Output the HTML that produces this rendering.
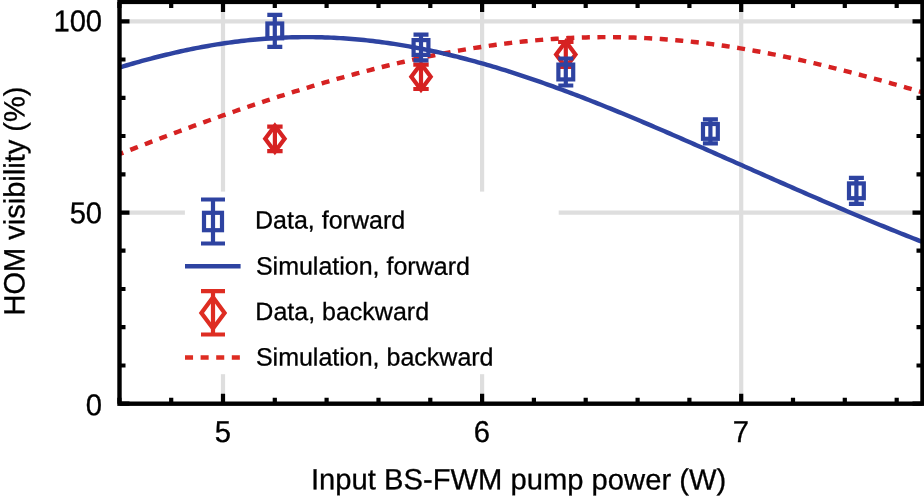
<!DOCTYPE html>
<html lang="en"><head><meta charset="utf-8"><title>HOM visibility</title>
<style>html,body{margin:0;padding:0;background:#fff;overflow:hidden}svg{display:block}text{text-rendering:geometricPrecision;font-family:"Liberation Sans",sans-serif;fill:#000}</style></head><body>
<svg width="924" height="504" viewBox="0 0 924 504">
<rect width="924" height="504" fill="#fff"/>
<g stroke="#dedede" stroke-width="4.2" fill="none">
<line x1="223.0" y1="1.9" x2="223.0" y2="403.7"/>
<line x1="482.1" y1="1.9" x2="482.1" y2="403.7"/>
<line x1="741.2" y1="1.9" x2="741.2" y2="403.7"/>
<line x1="119.5" y1="212.7" x2="922.5" y2="212.7"/>
<line x1="119.5" y1="21.3" x2="922.5" y2="21.3"/>
</g>
<rect x="184.9" y="191.6" width="373.8" height="182.6" fill="#fff"/>
<defs><clipPath id="ax"><rect x="119.5" y="1.9" width="803.0" height="401.8"/></clipPath></defs>
<g clip-path="url(#ax)" fill="none" stroke-width="4">
<path d="M112.0,157.02 L115.0,155.84 L118.0,154.67 L121.0,153.50 L124.0,152.33 L127.0,151.16 L130.0,150.00 L133.0,148.83 L136.0,147.67 L139.0,146.52 L142.0,145.36 L145.0,144.21 L148.0,143.06 L151.0,141.92 L154.0,140.77 L157.0,139.63 L160.0,138.50 L163.0,137.36 L166.0,136.23 L169.0,135.10 L172.0,133.98 L175.0,132.86 L178.0,131.74 L181.0,130.63 L184.0,129.52 L187.0,128.41 L190.0,127.31 L193.0,126.21 L196.0,125.11 L199.0,124.02 L202.0,122.94 L205.0,121.85 L208.0,120.77 L211.0,119.70 L214.0,118.63 L217.0,117.56 L220.0,116.50 L223.0,115.44 L226.0,114.39 L229.0,113.34 L232.0,112.29 L235.0,111.25 L238.0,110.21 L241.0,109.18 L244.0,108.16 L247.0,107.14 L250.0,106.12 L253.0,105.11 L256.0,104.10 L259.0,103.10 L262.0,102.10 L265.0,101.11 L268.0,100.12 L271.0,99.14 L274.0,98.16 L277.0,97.19 L280.0,96.23 L283.0,95.27 L286.0,94.31 L289.0,93.36 L292.0,92.42 L295.0,91.48 L298.0,90.55 L301.0,89.62 L304.0,88.70 L307.0,87.78 L310.0,86.88 L313.0,85.97 L316.0,85.08 L319.0,84.18 L322.0,83.30 L325.0,82.42 L328.0,81.55 L331.0,80.68 L334.0,79.82 L337.0,78.97 L340.0,78.12 L343.0,77.28 L346.0,76.45 L349.0,75.62 L352.0,74.81 L355.0,73.99 L358.0,73.19 L361.0,72.39 L364.0,71.60 L367.0,70.81 L370.0,70.03 L373.0,69.26 L376.0,68.50 L379.0,67.75 L382.0,67.00 L385.0,66.26 L388.0,65.53 L391.0,64.80 L394.0,64.08 L397.0,63.37 L400.0,62.67 L403.0,61.98 L406.0,61.29 L409.0,60.62 L412.0,59.95 L415.0,59.29 L418.0,58.63 L421.0,57.99 L424.0,57.36 L427.0,56.73 L430.0,56.11 L433.0,55.50 L436.0,54.90 L439.0,54.31 L442.0,53.72 L445.0,53.15 L448.0,52.58 L451.0,52.03 L454.0,51.48 L457.0,50.94 L460.0,50.41 L463.0,49.89 L466.0,49.38 L469.0,48.88 L472.0,48.39 L475.0,47.91 L478.0,47.44 L481.0,46.98 L484.0,46.53 L487.0,46.08 L490.0,45.65 L493.0,45.23 L496.0,44.82 L499.0,44.42 L502.0,44.02 L505.0,43.64 L508.0,43.27 L511.0,42.91 L514.0,42.56 L517.0,42.22 L520.0,41.89 L523.0,41.57 L526.0,41.26 L529.0,40.97 L532.0,40.68 L535.0,40.40 L538.0,40.14 L541.0,39.89 L544.0,39.64 L547.0,39.41 L550.0,39.19 L553.0,38.98 L556.0,38.78 L559.0,38.59 L562.0,38.41 L565.0,38.25 L568.0,38.09 L571.0,37.95 L574.0,37.82 L577.0,37.70 L580.0,37.59 L583.0,37.49 L586.0,37.41 L589.0,37.33 L592.0,37.27 L595.0,37.22 L598.0,37.17 L601.0,37.15 L604.0,37.13 L607.0,37.12 L610.0,37.13 L613.0,37.15 L616.0,37.17 L619.0,37.21 L622.0,37.27 L625.0,37.33 L628.0,37.41 L631.0,37.49 L634.0,37.59 L637.0,37.70 L640.0,37.82 L643.0,37.95 L646.0,38.10 L649.0,38.25 L652.0,38.42 L655.0,38.60 L658.0,38.79 L661.0,38.99 L664.0,39.21 L667.0,39.43 L670.0,39.67 L673.0,39.91 L676.0,40.17 L679.0,40.44 L682.0,40.72 L685.0,41.02 L688.0,41.32 L691.0,41.63 L694.0,41.96 L697.0,42.30 L700.0,42.64 L703.0,43.00 L706.0,43.37 L709.0,43.75 L712.0,44.14 L715.0,44.54 L718.0,44.95 L721.0,45.38 L724.0,45.81 L727.0,46.25 L730.0,46.70 L733.0,47.17 L736.0,47.64 L739.0,48.12 L742.0,48.62 L745.0,49.12 L748.0,49.64 L751.0,50.16 L754.0,50.69 L757.0,51.23 L760.0,51.78 L763.0,52.34 L766.0,52.91 L769.0,53.49 L772.0,54.08 L775.0,54.68 L778.0,55.28 L781.0,55.90 L784.0,56.52 L787.0,57.15 L790.0,57.79 L793.0,58.44 L796.0,59.10 L799.0,59.76 L802.0,60.43 L805.0,61.11 L808.0,61.80 L811.0,62.49 L814.0,63.20 L817.0,63.91 L820.0,64.62 L823.0,65.35 L826.0,66.08 L829.0,66.81 L832.0,67.56 L835.0,68.31 L838.0,69.06 L841.0,69.82 L844.0,70.59 L847.0,71.37 L850.0,72.14 L853.0,72.93 L856.0,73.72 L859.0,74.52 L862.0,75.32 L865.0,76.12 L868.0,76.93 L871.0,77.75 L874.0,78.57 L877.0,79.39 L880.0,80.22 L883.0,81.05 L886.0,81.89 L889.0,82.73 L892.0,83.57 L895.0,84.42 L898.0,85.27 L901.0,86.12 L904.0,86.98 L907.0,87.84 L910.0,88.70 L913.0,89.57 L916.0,90.43 L919.0,91.30 L922.0,92.17 L925.0,93.05 L928.0,93.92 L931.0,94.80" stroke="#D62222" stroke-width="4.45" stroke-dasharray="8.05 7.535" stroke-dashoffset="11.53"/>
</g>
<g stroke="#D62222" stroke-width="4.2" fill="none" stroke-linejoin="miter" stroke-miterlimit="10"><path d="M274.9,126.6V151.1M267.2,126.6H282.6M267.2,151.1H282.6"/><path d="M274.9,125.8L284.6,138.8L274.9,151.8L265.2,138.8Z"/></g>
<g stroke="#D62222" stroke-width="4.2" fill="none" stroke-linejoin="miter" stroke-miterlimit="10"><path d="M421.0,64.6V89.0M413.3,64.6H428.7M413.3,89.0H428.7"/><path d="M421.0,63.8L430.7,76.8L421.0,89.8L411.3,76.8Z"/></g>
<g stroke="#D62222" stroke-width="4.2" fill="none" stroke-linejoin="miter" stroke-miterlimit="10"><path d="M565.8,42.0V67.0M558.1,42.0H573.5M558.1,67.0H573.5"/><path d="M565.8,41.5L575.5,54.5L565.8,67.5L556.1,54.5Z"/></g>
<g clip-path="url(#ax)" fill="none" stroke-width="4">
<path d="M112.0,69.77 L115.0,68.84 L118.0,67.92 L121.0,67.02 L124.0,66.12 L127.0,65.24 L130.0,64.36 L133.0,63.50 L136.0,62.64 L139.0,61.80 L142.0,60.97 L145.0,60.15 L148.0,59.34 L151.0,58.55 L154.0,57.76 L157.0,56.99 L160.0,56.23 L163.0,55.49 L166.0,54.76 L169.0,54.04 L172.0,53.33 L175.0,52.64 L178.0,51.96 L181.0,51.29 L184.0,50.64 L187.0,50.00 L190.0,49.38 L193.0,48.77 L196.0,48.17 L199.0,47.59 L202.0,47.03 L205.0,46.48 L208.0,45.94 L211.0,45.42 L214.0,44.91 L217.0,44.42 L220.0,43.95 L223.0,43.49 L226.0,43.04 L229.0,42.62 L232.0,42.20 L235.0,41.80 L238.0,41.42 L241.0,41.06 L244.0,40.71 L247.0,40.37 L250.0,40.06 L253.0,39.75 L256.0,39.47 L259.0,39.20 L262.0,38.95 L265.0,38.71 L268.0,38.49 L271.0,38.28 L274.0,38.10 L277.0,37.92 L280.0,37.77 L283.0,37.63 L286.0,37.51 L289.0,37.40 L292.0,37.31 L295.0,37.24 L298.0,37.18 L301.0,37.15 L304.0,37.12 L307.0,37.11 L310.0,37.12 L313.0,37.15 L316.0,37.19 L319.0,37.25 L322.0,37.33 L325.0,37.42 L328.0,37.53 L331.0,37.65 L334.0,37.79 L337.0,37.95 L340.0,38.12 L343.0,38.31 L346.0,38.51 L349.0,38.73 L352.0,38.97 L355.0,39.22 L358.0,39.49 L361.0,39.77 L364.0,40.07 L367.0,40.39 L370.0,40.72 L373.0,41.07 L376.0,41.43 L379.0,41.81 L382.0,42.20 L385.0,42.61 L388.0,43.03 L391.0,43.47 L394.0,43.92 L397.0,44.39 L400.0,44.87 L403.0,45.37 L406.0,45.88 L409.0,46.41 L412.0,46.95 L415.0,47.50 L418.0,48.07 L421.0,48.65 L424.0,49.25 L427.0,49.86 L430.0,50.49 L433.0,51.13 L436.0,51.78 L439.0,52.44 L442.0,53.12 L445.0,53.82 L448.0,54.52 L451.0,55.24 L454.0,55.97 L457.0,56.71 L460.0,57.47 L463.0,58.24 L466.0,59.02 L469.0,59.81 L472.0,60.62 L475.0,61.44 L478.0,62.27 L481.0,63.11 L484.0,63.96 L487.0,64.82 L490.0,65.70 L493.0,66.59 L496.0,67.48 L499.0,68.39 L502.0,69.31 L505.0,70.24 L508.0,71.18 L511.0,72.13 L514.0,73.09 L517.0,74.07 L520.0,75.05 L523.0,76.04 L526.0,77.04 L529.0,78.05 L532.0,79.07 L535.0,80.10 L538.0,81.14 L541.0,82.18 L544.0,83.24 L547.0,84.30 L550.0,85.38 L553.0,86.46 L556.0,87.55 L559.0,88.64 L562.0,89.75 L565.0,90.86 L568.0,91.98 L571.0,93.11 L574.0,94.25 L577.0,95.39 L580.0,96.54 L583.0,97.70 L586.0,98.86 L589.0,100.03 L592.0,101.21 L595.0,102.40 L598.0,103.58 L601.0,104.78 L604.0,105.98 L607.0,107.19 L610.0,108.40 L613.0,109.62 L616.0,110.85 L619.0,112.08 L622.0,113.31 L625.0,114.55 L628.0,115.79 L631.0,117.04 L634.0,118.30 L637.0,119.55 L640.0,120.82 L643.0,122.08 L646.0,123.35 L649.0,124.63 L652.0,125.90 L655.0,127.19 L658.0,128.47 L661.0,129.76 L664.0,131.05 L667.0,132.34 L670.0,133.64 L673.0,134.94 L676.0,136.24 L679.0,137.55 L682.0,138.86 L685.0,140.17 L688.0,141.48 L691.0,142.79 L694.0,144.11 L697.0,145.43 L700.0,146.75 L703.0,148.07 L706.0,149.39 L709.0,150.72 L712.0,152.04 L715.0,153.37 L718.0,154.69 L721.0,156.02 L724.0,157.35 L727.0,158.68 L730.0,160.01 L733.0,161.34 L736.0,162.67 L739.0,164.00 L742.0,165.33 L745.0,166.66 L748.0,167.99 L751.0,169.33 L754.0,170.66 L757.0,171.99 L760.0,173.31 L763.0,174.64 L766.0,175.97 L769.0,177.30 L772.0,178.62 L775.0,179.95 L778.0,181.27 L781.0,182.59 L784.0,183.91 L787.0,185.23 L790.0,186.55 L793.0,187.87 L796.0,189.18 L799.0,190.50 L802.0,191.81 L805.0,193.12 L808.0,194.42 L811.0,195.73 L814.0,197.03 L817.0,198.33 L820.0,199.63 L823.0,200.92 L826.0,202.21 L829.0,203.50 L832.0,204.79 L835.0,206.08 L838.0,207.36 L841.0,208.64 L844.0,209.91 L847.0,211.18 L850.0,212.45 L853.0,213.72 L856.0,214.98 L859.0,216.24 L862.0,217.49 L865.0,218.75 L868.0,219.99 L871.0,221.24 L874.0,222.48 L877.0,223.71 L880.0,224.95 L883.0,226.18 L886.0,227.40 L889.0,228.62 L892.0,229.83 L895.0,231.05 L898.0,232.25 L901.0,233.45 L904.0,234.65 L907.0,235.85 L910.0,237.03 L913.0,238.22 L916.0,239.40 L919.0,240.57 L922.0,241.74 L925.0,242.90 L928.0,244.06 L931.0,245.21" stroke="#2E43A1" stroke-width="4.45"/>
</g>
<g stroke="#2E43A1" stroke-width="4.2" fill="none"><path d="M274.8,14.9V46.9M267.3,14.9H282.3M267.3,46.9H282.3"/><rect x="267.40" y="23.50" width="14.80" height="14.80"/></g>
<g stroke="#2E43A1" stroke-width="4.2" fill="none"><path d="M421.0,34.6V60.4M413.5,34.6H428.5M413.5,60.4H428.5"/><rect x="413.60" y="40.10" width="14.80" height="14.80"/></g>
<g stroke="#2E43A1" stroke-width="4.2" fill="none"><path d="M565.8,58.5V85.5M558.3,58.5H573.3M558.3,85.5H573.3"/><rect x="558.40" y="64.60" width="14.80" height="14.80"/></g>
<g stroke="#2E43A1" stroke-width="4.2" fill="none"><path d="M710.4,119.4V143.4M702.9,119.4H717.9M702.9,143.4H717.9"/><rect x="703.00" y="124.00" width="14.80" height="14.80"/></g>
<g stroke="#2E43A1" stroke-width="4.2" fill="none"><path d="M856.4,177.8V203.8M848.9,177.8H863.9M848.9,203.8H863.9"/><rect x="849.00" y="183.40" width="14.80" height="14.80"/></g>
<g stroke="#2E43A1" stroke-width="4.2" fill="none"><path d="M213.0,199.5V243.5M201.0,199.5H225.0M201.0,243.5H225.0"/><rect x="204.00" y="212.80" width="18.00" height="17.40"/></g>
<line x1="185" y1="266.3" x2="240.6" y2="266.3" stroke="#2E43A1" stroke-width="4.45"/>
<g stroke="#DE2D22" stroke-width="4.2" fill="none" stroke-linejoin="miter" stroke-miterlimit="10"><path d="M213.0,291.2V334.5M201.0,291.2H225.0M201.0,334.5H225.0"/><path d="M213.0,297.3L224.6,312.9L213.0,328.5L201.4,312.9Z"/></g>
<line x1="185" y1="357.5" x2="240" y2="357.5" stroke="#DE2D22" stroke-width="4.45" stroke-dasharray="8.05 7.55"/>
<g font-size="25" stroke="#000" stroke-width="0.3">
<text transform="translate(255.05,228.5) rotate(0.03)">Data, forward</text>
<text transform="translate(255.9,274.55) rotate(0.03)">Simulation, forward</text>
<text transform="translate(255.35,320.0) rotate(0.03)">Data, backward</text>
<text transform="translate(255.9,365.45) rotate(0.03)">Simulation, backward</text>
</g>
<g stroke="#000" stroke-width="4.2" fill="none">
<path d="M119.4,403.7v-6M119.4,1.9v6M171.2,403.7v-6M171.2,1.9v6M223.0,403.7v-10M223.0,1.9v10M274.8,403.7v-6M274.8,1.9v6M326.6,403.7v-6M326.6,1.9v6M378.5,403.7v-6M378.5,1.9v6M430.3,403.7v-6M430.3,1.9v6M482.1,403.7v-10M482.1,1.9v10M533.9,403.7v-6M533.9,1.9v6M585.7,403.7v-6M585.7,1.9v6M637.6,403.7v-6M637.6,1.9v6M689.4,403.7v-6M689.4,1.9v6M741.2,403.7v-10M741.2,1.9v10M793.0,403.7v-6M793.0,1.9v6M844.8,403.7v-6M844.8,1.9v6M896.7,403.7v-6M896.7,1.9v6M119.5,403.7h10M922.5,403.7h-10M119.5,365.5h6M922.5,365.5h-6M119.5,327.2h6M922.5,327.2h-6M119.5,289.0h6M922.5,289.0h-6M119.5,250.7h6M922.5,250.7h-6M119.5,212.7h10M922.5,212.7h-10M119.5,174.3h6M922.5,174.3h-6M119.5,136.0h6M922.5,136.0h-6M119.5,97.8h6M922.5,97.8h-6M119.5,59.5h6M922.5,59.5h-6M119.5,21.3h10M922.5,21.3h-10"/>
<rect x="119.5" y="1.9" width="803.0" height="401.8" stroke-width="4.4"/>
</g>
<g font-size="29.2" stroke="#000" stroke-width="0.3">
<text transform="translate(102.1,415.15) rotate(0.03) scale(1,1.03)" text-anchor="end">0</text>
<text transform="translate(102.1,223.38) rotate(0.03) scale(1,1.03)" text-anchor="end">50</text>
<text transform="translate(102.1,31.24) rotate(0.03) scale(1,1.03)" text-anchor="end">100</text>
<text transform="translate(222.75,442.07) rotate(0.03) scale(1,1.03)" text-anchor="middle">5</text>
<text transform="translate(481.85,442.07) rotate(0.03) scale(1,1.03)" text-anchor="middle">6</text>
<text transform="translate(740.95,442.07) rotate(0.03) scale(1,1.03)" text-anchor="middle">7</text>
<text transform="translate(518.6,489.35) rotate(0.03)" text-anchor="middle">Input BS-FWM pump power (W)</text>
<text transform="translate(24.55,201) rotate(-90.03) scale(1,1.015)" text-anchor="middle" font-size="29">HOM visibility (%)</text>
</g>
</svg></body></html>
